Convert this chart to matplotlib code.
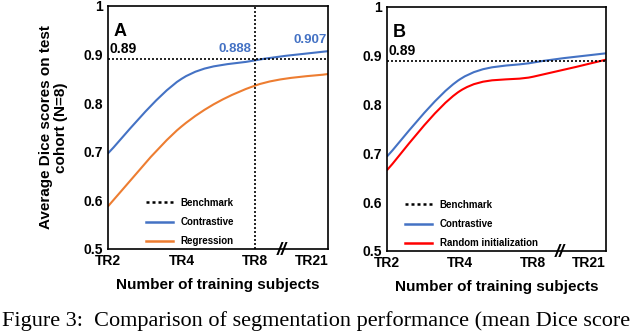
import matplotlib
matplotlib.use("Agg")
import matplotlib.pyplot as plt
from matplotlib.path import Path
from matplotlib.patches import PathPatch
from matplotlib.lines import Line2D

plt.rcParams['font.family'] = ['Liberation Sans', 'DejaVu Sans']
plt.rcParams['font.weight'] = 'bold'
plt.rcParams['axes.labelweight'] = 'bold'

# data
ticks = ['TR2', 'TR4', 'TR8', 'TR21']
benchmark = 0.89
a_contrastive = [0.697, 0.850, 0.888, 0.907]
a_regression = [0.588, 0.752, 0.836, 0.860]
b_contrastive = [0.694, 0.852, 0.886, 0.905]
b_random = [0.666, 0.828, 0.857, 0.892]

blue = '#4472C4'
orange = '#ED7D31'
red = '#FF0000'


def smooth_line(ax, ys, color):
    # Excel-style smoothed line: Catmull-Rom through the points as cubic Beziers
    xs = list(range(len(ys)))
    pts = list(zip(xs, ys))
    verts = [pts[0]]
    codes = [Path.MOVETO]
    n = len(pts)
    for i in range(n - 1):
        p0 = pts[max(i - 1, 0)]
        p1 = pts[i]
        p2 = pts[i + 1]
        p3 = pts[min(i + 2, n - 1)]
        c1 = (p1[0] + (p2[0] - p0[0]) / 6, p1[1] + (p2[1] - p0[1]) / 6)
        c2 = (p2[0] - (p3[0] - p1[0]) / 6, p2[1] - (p3[1] - p1[1]) / 6)
        verts += [c1, c2, p2]
        codes += [Path.CURVE4] * 3
    ax.add_patch(PathPatch(Path(verts, codes), fill=False, edgecolor=color,
                           lw=1.5, capstyle='round'))


def style_axes(ax):
    ax.set_xlim(0, 3)
    ax.set_ylim(0.5, 1.0)
    ax.set_xticks(range(4))
    ax.set_xticklabels(ticks)
    ax.get_xticklabels()[-1].set_ha('right')
    ax.set_yticks([0.5, 0.6, 0.7, 0.8, 0.9, 1.0])
    ax.set_yticklabels(['0.5', '0.6', '0.7', '0.8', '0.9', '1'])
    ax.tick_params(length=0, labelsize=10, pad=4)
    for s in ax.spines.values():
        s.set_linewidth(1.2)
        s.set_color('black')
    ax.axhline(benchmark, color='black', ls=(0, (1.2, 1.2)), lw=1.2)
    ax.text(2.37, 0.497, '//', fontsize=13, ha='center', va='center',
            clip_on=False, style='italic')
    ax.set_xlabel('Number of training subjects', fontsize=11, labelpad=7)


fig = plt.figure(figsize=(6.4, 3.31), dpi=100)
axA = fig.add_axes([0.169, 0.248, 0.344, 0.734])
axB = fig.add_axes([0.605, 0.242, 0.342, 0.737])

# panel A
style_axes(axA)
axA.axvline(2, color='black', ls=(0, (1.2, 1.2)), lw=1.2)
smooth_line(axA, a_contrastive, blue)
smooth_line(axA, a_regression, orange)
axA.text(0.08, 0.948, 'A', fontsize=13, va='center', ha='left')
axA.text(0.02, benchmark + 0.006, '0.89', fontsize=10, va='bottom')
axA.text(1.95, a_contrastive[2] + 0.011, '0.888', fontsize=9.5, color=blue,
         ha='right', va='bottom')
axA.text(2.98, a_contrastive[3] + 0.011, '0.907', fontsize=9.5, color=blue,
         ha='right', va='bottom')
axA.set_ylabel('Average Dice scores on test\ncohort (N=8)', fontsize=11,
               labelpad=11, linespacing=1.1)
hA = [Line2D([], [], color='black', ls=(0, (1.2, 1.2)), lw=1.8),
      Line2D([], [], color=blue, lw=1.8),
      Line2D([], [], color=orange, lw=1.8)]
axA.legend(hA, ['Benchmark', 'Contrastive', 'Regression'], loc='lower left',
           bbox_to_anchor=(0.13, -0.025), frameon=False, fontsize=7,
           handlelength=2.8, labelspacing=0.95)

# panel B
style_axes(axB)
smooth_line(axB, b_contrastive, blue)
smooth_line(axB, b_random, red)
axB.text(0.08, 0.948, 'B', fontsize=13, va='center', ha='left')
axB.text(0.02, benchmark + 0.006, '0.89', fontsize=10, va='bottom')
hB = [Line2D([], [], color='black', ls=(0, (1.2, 1.2)), lw=1.8),
      Line2D([], [], color=blue, lw=1.8),
      Line2D([], [], color=red, lw=1.8)]
axB.legend(hB, ['Benchmark', 'Contrastive', 'Random initialization'],
           loc='lower left', bbox_to_anchor=(0.04, -0.025), frameon=False,
           fontsize=7, handlelength=2.8, labelspacing=0.95)

fig.text(0.003, 0.016, 'Figure 3:  Comparison of segmentation performance (mean Dice score',
         fontsize=16, family=['Liberation Serif', 'DejaVu Serif'],
         fontweight='normal', va='baseline', ha='left')

fig.savefig('out.png', dpi=100)
